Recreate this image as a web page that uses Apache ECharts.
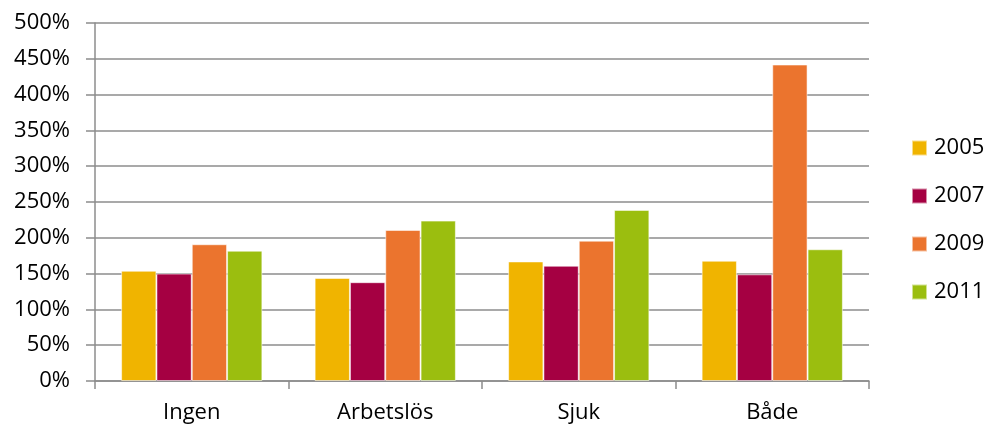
<!DOCTYPE html>
<html>
<head>
<meta charset="utf-8">
<script src="https://cdn.jsdelivr.net/npm/echarts@6/dist/echarts.min.js"></script>
<style>
  html, body { margin: 0; padding: 0; background: #ffffff; }
  #chart { width: 989px; height: 426px; }
</style>
</head>
<body>
<div id="chart"></div>
<script>
// Categories along the x axis
const categories = ['Ingen', 'Arbetslös', 'Sjuk', 'Både'];

// Values per year, in percent
const years = ['2005', '2007', '2009', '2011'];
const v2005 = [154, 144, 167, 168];
const v2007 = [150, 138, 161, 149];
const v2009 = [191, 211, 196, 442];
const v2011 = [182, 224, 239, 184];

const colors = ['#F0B400', '#A50042', '#EB742E', '#9BBE0F'];
const seriesValues = [v2005, v2007, v2009, v2011];

const FONT = '"Open Sans", "Liberation Sans", sans-serif';
const gridColor = '#8c8c8c';

const chart = echarts.init(document.getElementById('chart'), null, { renderer: 'canvas' });

chart.setOption({
  animation: false,
  backgroundColor: '#ffffff',
  grid: { left: 95, right: 120, top: 23, bottom: 45, containLabel: false },
  legend: {
    orient: 'vertical',
    left: 906,
    top: 132,
    icon: 'rect',
    itemWidth: 15,
    itemHeight: 15,
    itemGap: 26,
    textStyle: { fontFamily: FONT, fontSize: 22, color: '#000', lineHeight: 22, padding: [0, 0, 0, 2] },
    data: years
  },
  xAxis: {
    type: 'category',
    data: categories,
    axisLine: { show: true, lineStyle: { color: gridColor, width: 1.5 } },
    axisTick: { show: true, alignWithLabel: false, length: 8, lineStyle: { color: gridColor, width: 1.5 } },
    axisLabel: { fontFamily: FONT, fontSize: 22, color: '#000', margin: 21 }
  },
  yAxis: {
    type: 'value',
    min: 0,
    max: 500,
    interval: 50,
    axisLine: { show: true, lineStyle: { color: gridColor, width: 1.5 } },
    axisTick: { show: true, length: 9, lineStyle: { color: gridColor, width: 1.5 } },
    splitLine: { show: true, lineStyle: { color: gridColor, width: 1.5 } },
    axisLabel: { fontFamily: FONT, fontSize: 22, color: '#000', margin: 25, formatter: '{value}%' }
  },
  series: years.map((y, i) => ({
    name: y,
    type: 'bar',
    data: seriesValues[i],
    barGap: '0%',
    barCategoryGap: '27%',
    itemStyle: { color: colors[i], borderColor: 'rgba(255,255,255,0.55)', borderWidth: 1 }
  }))
});
</script>
</body>
</html>
